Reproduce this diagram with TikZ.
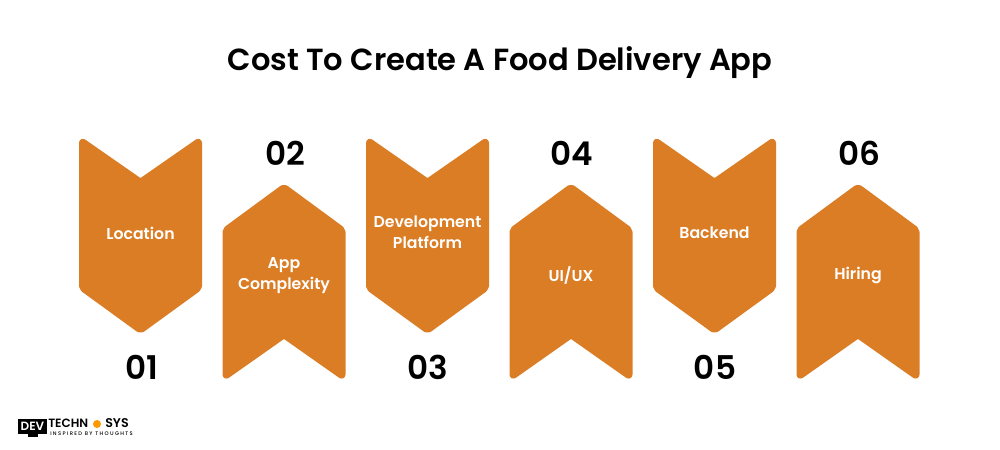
\documentclass[tikz,border=0pt]{standalone}
\usepackage{fontspec}
\setmainfont{Poppins}
\newfontfamily\titlefont{Poppins SemiBold}
\newfontfamily\medfont{Poppins Medium}
\definecolor{tagorange}{HTML}{DB7D25}
\tikzset{tagshape/.style={fill=tagorange, draw=tagorange, line width=4.5pt, line join=round, rounded corners=1.5pt}}
\newcommand{\downtag}[1]{\path[tagshape] (#1+3,141) -- (#1+61.5,181.7) -- (#1+120,141) -- (#1+120,288) -- (#1+61.5,330.5) -- (#1+3,288) -- cycle;}
\newcommand{\uptag}[1]{\path[tagshape] (#1+3,230) -- (#1+61.5,187) -- (#1+120,230) -- (#1+120,376.5) -- (#1+61.5,335.3) -- (#1+3,376.5) -- cycle;}
\begin{document}
\begin{tikzpicture}[x=0.75pt, y=-0.75pt,
  heading/.style={font=\titlefont\fontsize{22.9}{28}\selectfont, text=black, inner sep=0},
  number/.style={font=\titlefont\fontsize{24.5}{28}\selectfont, text=black, inner sep=0},
  label/.style={font=\titlefont\fontsize{11.8}{15.5}\selectfont, text=white, align=center, inner sep=0}]
\useasboundingbox (0,0) rectangle (1000,450);
\node[heading] (title) at (500,62.5) {Cost To Create A Food Delivery App};
\downtag{79}
\uptag{222.5}
\downtag{366}
\uptag{509.5}
\downtag{653}
\uptag{796.5}
\node[label] (l1) at (140.5,233) {Location};
\node[label] (l2) at (284,275.5) {App\\Complexity};
\node[label] (l3) at (427.5,232.5) {Development\\Platform};
\node[label] (l4) at (571,275) {UI/UX};
\node[label] (l5) at (714.5,233) {Backend};
\node[label] (l6) at (858,275.5) {Hiring};
\node[number] (n1) at (141.5,367) {01};
\node[number] (n2) at (285,153) {02};
\node[number] (n3) at (428,367) {03};
\node[number] (n4) at (571.5,153) {04};
\node[number] (n5) at (715,367) {05};
\node[number] (n6) at (859,153) {06};
% logo
\fill[black] (18,419) rectangle (47,434);
\fill[black] (28,434) rectangle (38,437);
\node[font=\titlefont\fontsize{9}{9}\selectfont, text=white, inner sep=0] (dev) at (32.5,426.5) {DEV};
\node[font=\titlefont\fontsize{9}{9}\selectfont, text=black, inner sep=0, anchor=west] (tech) at (48,423.5) {TECHN};
\node[circle, fill=orange!80!yellow, minimum size=6pt, inner sep=0] (gear) at (97,424) {};
\node[font=\titlefont\fontsize{9.5}{9.5}\selectfont, text=black, inner sep=0, anchor=west] (sys) at (105,423.5) {SYS};
\node[font=\medfont\fontsize{3.9}{4}\selectfont, text=black, inner sep=0, anchor=west] (tag) at (50,433.5) {I N S P I R E D\ \ B Y\ \ T H O U G H T S};
\end{tikzpicture}
\end{document}
